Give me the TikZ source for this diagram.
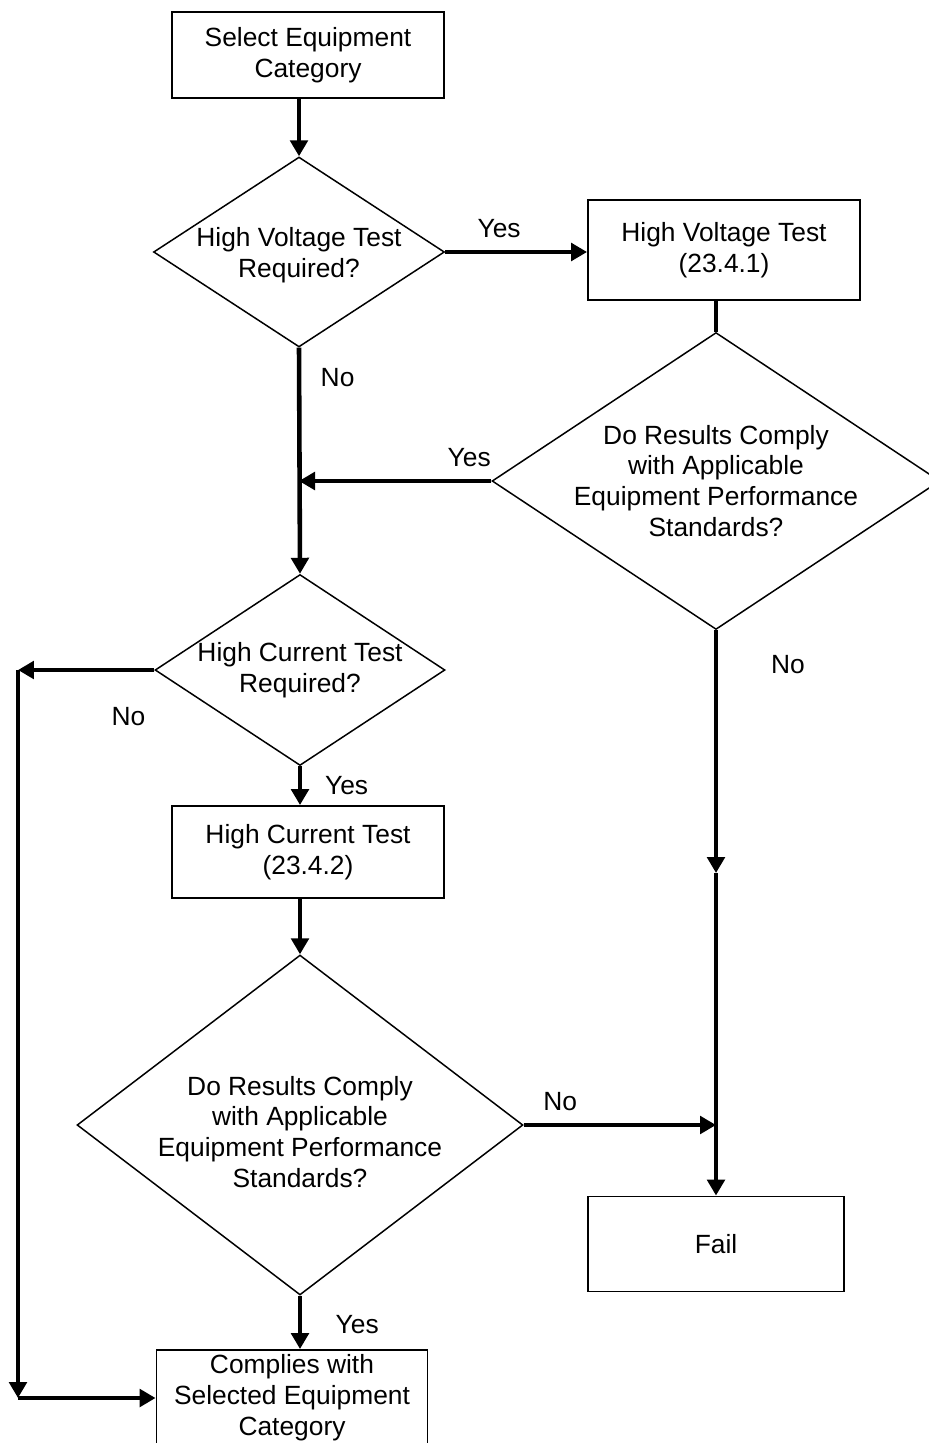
\documentclass[tikz,border=0pt]{standalone}
\usepackage{fontspec}
\setmainfont{Liberation Sans}
\usetikzlibrary{arrows.meta,positioning,shapes.geometric}

\begin{document}
\begin{tikzpicture}[x=0.02cm,y=-0.02cm,font=\fontsize{15}{17.6}\selectfont,>={Triangle[length=3.2mm,width=3.5mm]},
 box/.style={draw,line width=1.1pt,minimum width=5.44cm,align=center,inner sep=2pt},
 decision/.style={draw,diamond,line width=0.85pt,inner sep=0pt},
 flow/.style={->,line width=2.6pt},
 tag/.style={inner sep=2pt}]
\useasboundingbox (0,0) rectangle (929,1443);
\node[box,minimum height=1.72cm] (sel) at (308,55) {Select Equipment\\Category};
\node[decision,minimum width=5.82cm,minimum height=3.8cm,label={[align=center,yshift=-0.06cm]center:High Voltage Test\\Required?}] (hvq) at (299,252) {};
\node[box,minimum height=2cm] (hvt) at (724,250) {High Voltage Test\\(23.4.1)};
\node[decision,minimum width=8.96cm,minimum height=5.94cm,label={[align=center]center:Do Results Comply\\with Applicable\\Equipment Performance\\Standards?}] (res1) at (716,481) {};
\node[decision,minimum width=5.8cm,minimum height=3.82cm,label={[align=center]center:High Current Test\\Required?}] (hcq) at (300,670) {};
\node[box,minimum height=1.84cm] (hct) at (308,852) {High Current Test\\(23.4.2)};
\node[decision,minimum width=8.92cm,minimum height=6.8cm,label={[align=center,yshift=-0.14cm]center:Do Results Comply\\with Applicable\\Equipment Performance\\Standards?}] (res2) at (300,1125) {};
\node[box,minimum width=5.12cm,minimum height=1.9cm] (fail) at (716,1244) {Fail};
\node[box,minimum width=5.42cm,minimum height=1.92cm] (comp) at (292,1398) {Complies with\\Selected Equipment\\Category};
\coordinate (lft) at (18,670);
\coordinate (bl) at (18,1398);
\coordinate (mid) at (716,873);
% main column
\draw[flow] (hvq.north |- sel.south) -- (hvq.north);
\draw[flow] (hvq.east) -- node[tag,above=5pt,pos=0.38]{Yes} (hvq.east -| hvt.west);
\draw[flow,-] (res1.north |- hvt.south) -- (res1.north);
\draw[flow] (res1.west) -- node[tag,above=5pt,pos=0.115]{Yes} (res1.west -| hvq.south);
\draw[flow] (hvq.south) -- node[tag,right=9pt,pos=0.13]{No} (hcq.north);
\draw[flow] (hcq.south) -- node[tag,right=11pt]{Yes} (hcq.south |- hct.north);
\draw[flow] (res2.north |- hct.south) -- (res2.north);
\draw[flow] (res2.south) -- node[tag,right=17pt,pos=0.55]{Yes} (res2.south |- comp.north);
% bypass on the left
\draw[flow] (hcq.west) -- node[tag,below=18pt,pos=0.19]{No} (lft);
\draw[flow] (lft) -- (bl);
\draw[flow] (bl) -- (comp.west);
% failure branch
\draw[flow] (res1.south) -- node[tag,right=28pt,pos=0.14]{No} (mid);
\draw[flow] (mid) -- (fail.north);
\draw[flow] (res2.east) -- node[tag,above=5pt,pos=0.19]{No} (res2.east -| fail.north);
\end{tikzpicture}
\end{document}
